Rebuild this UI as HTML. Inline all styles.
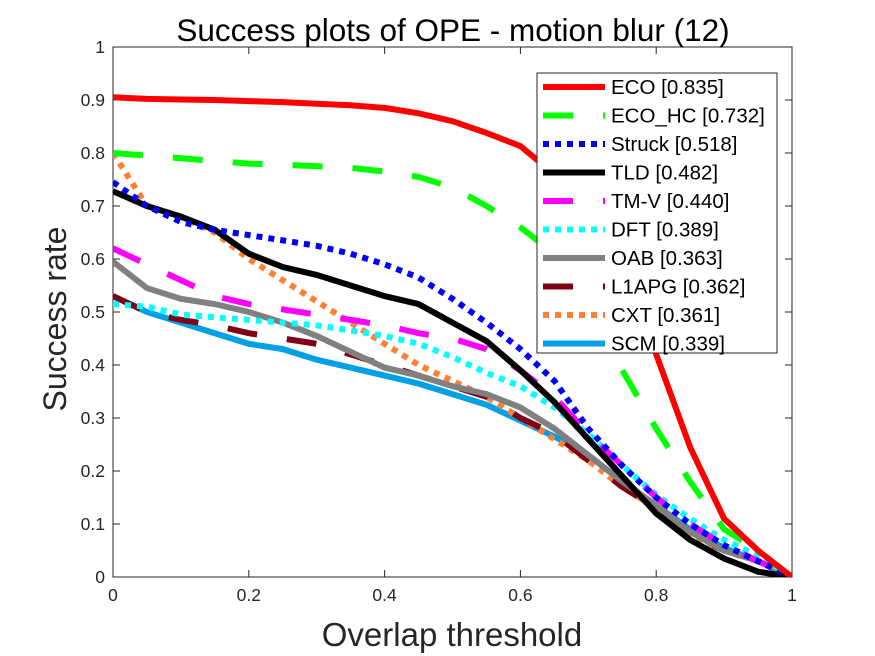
<!DOCTYPE html>
<html><head><meta charset="utf-8"><style>
body{margin:0;background:#fff}
svg{display:block;font-family:"Liberation Sans",sans-serif}
</style></head><body>
<svg id="c" width="875" height="656"></svg>
<script>
const thresholds=[0,.05,.1,.15,.2,.25,.3,.35,.4,.45,.5,.55,.6,.65,.7,.75,.8,.85,.9,.95,1];
const seriesNames=["ECO [0.835]","ECO_HC [0.732]","Struck [0.518]","TLD [0.482]","TM-V [0.440]","DFT [0.389]","OAB [0.363]","L1APG [0.362]","CXT [0.361]","SCM [0.339]"];
const ecoVals=[.905,.902,.901,.900,.898,.896,.893,.89,.885,.875,.86,.838,.813,.76,.70,.60,.42,.245,.11,.05,0];
const ecoHcVals=[.80,.795,.79,.785,.78,.778,.775,.772,.765,.755,.735,.70,.66,.61,.53,.39,.28,.18,.09,.05,0];
const struckVals=[.745,.70,.67,.655,.645,.635,.625,.61,.59,.565,.525,.48,.43,.37,.28,.21,.15,.10,.06,.03,0];
const tldVals=[.728,.70,.68,.655,.61,.585,.57,.55,.53,.515,.48,.445,.39,.33,.26,.19,.12,.07,.035,.01,0];
const tmvVals=[.62,.59,.56,.53,.515,.505,.495,.485,.475,.46,.45,.43,.39,.34,.27,.21,.15,.10,.06,.03,0];
const dftVals=[.515,.51,.495,.49,.485,.48,.475,.465,.455,.44,.415,.385,.36,.32,.27,.21,.155,.11,.07,.04,0];
const oabVals=[.595,.545,.525,.515,.50,.48,.455,.425,.395,.38,.36,.345,.32,.28,.23,.18,.135,.085,.05,.03,0];
const l1apgVals=[.53,.50,.485,.475,.46,.45,.44,.42,.40,.38,.36,.34,.30,.27,.22,.17,.13,.08,.05,.03,0];
const cxtVals=[.80,.70,.68,.65,.60,.56,.52,.48,.44,.40,.37,.34,.30,.26,.22,.17,.13,.08,.05,.03,0];
const scmVals=[.53,.50,.48,.46,.44,.43,.41,.395,.38,.365,.345,.325,.295,.265,.23,.18,.135,.09,.055,.03,0];
const xTicks=[0,0.2,0.4,0.6,0.8,1];
const xTickLabels=["0","0.2","0.4","0.6","0.8","1"];
const yTicks=[0,.1,.2,.3,.4,.5,.6,.7,.8,.9,1];
const yTickLabels=["0","0.1","0.2","0.3","0.4","0.5","0.6","0.7","0.8","0.9","1"];

const allVals=[ecoVals,ecoHcVals,struckVals,tldVals,tmvVals,dftVals,oabVals,l1apgVals,cxtVals,scmVals];
const styles=[["#ff0000",""],["#00ff00","30,30"],["#0000ff","6,6"],["#000000",""],["#ff00ff","30,30"],["#00ffff","6,6"],["#808080",""],["#800014","30,30"],["#ff8030","6,6"],["#00a0e6",""]];
const X0=113,X1=792,Y0=577,Y1=47;
const sx=v=>X0+(X1-X0)*v, sy=v=>Y0-(Y0-Y1)*v;
const NS="http://www.w3.org/2000/svg";
const svg=document.getElementById('c');
function mk(tag,attrs,parent){const e=document.createElementNS(NS,tag);for(const k in attrs)e.setAttribute(k,attrs[k]);(parent||svg).appendChild(e);return e;}
function txt(s,attrs){const t=mk('text',attrs);t.textContent=s;return t;}

mk('rect',{x:X0,y:Y1,width:X1-X0,height:Y0-Y1,fill:'#fff',stroke:'#262626','stroke-width':1});
xTicks.forEach((v,i)=>{
  const g=mk('line',{x1:sx(v),x2:sx(v),y1:Y0,y2:Y0-7,stroke:'#262626'});
  
  mk('line',{x1:sx(v),x2:sx(v),y1:Y1,y2:Y1+7,stroke:'#262626'});
  const t=txt(xTickLabels[i],{x:sx(v),y:Y0+24,'text-anchor':'middle','font-size':17.5,fill:'#262626'});
  
});
yTicks.forEach((v,i)=>{
  mk('line',{x1:X0,x2:X0+7,y1:sy(v),y2:sy(v),stroke:'#262626'});
  mk('line',{x1:X1,x2:X1-7,y1:sy(v),y2:sy(v),stroke:'#262626'});
  const t=txt(yTickLabels[i],{x:X0-8,y:sy(v)+6,'text-anchor':'end','font-size':17.5,fill:'#262626'});
  
});
const clip=mk('clipPath',{id:'pc'});mk('rect',{x:X0,y:Y1,width:X1-X0,height:Y0-Y1},clip);
const g=mk('g',{'clip-path':'url(#pc)'});
for(let s=allVals.length-1;s>=0;s--){
  const d=thresholds.map((t,i)=>(i?'L':'M')+sx(t).toFixed(1)+','+sy(allVals[s][i]).toFixed(1)).join(' ');
  const p=mk('path',{d:d,fill:'none',stroke:styles[s][0],'stroke-width':6,'stroke-dasharray':styles[s][1]||'none'},g);
  
  
}
const lg=mk('g',{});


mk('rect',{x:537,y:73,width:240,height:280,fill:'#fff',stroke:'#262626','stroke-width':1},lg);
seriesNames.forEach((n,i)=>{
  const y=87+i*28.5;
  mk('line',{x1:543,x2:605,y1:y,y2:y,stroke:styles[i][0],'stroke-width':6,'stroke-dasharray':styles[i][1]||'none'},lg);
  const t=mk('text',{x:611,y:y+7,'font-size':20.5,fill:'#000'},lg);t.textContent=n;
  
  
});
const ti=txt('Success plots of OPE - motion blur (12)',{x:453,y:41,'text-anchor':'middle','font-size':31.5,fill:'#000'});

const xl=txt('Overlap threshold',{x:452,y:646,'text-anchor':'middle','font-size':33,fill:'#262626'});

const yl=txt('Success rate',{x:0,y:0,'text-anchor':'middle','font-size':32,fill:'#262626',transform:'translate(66,319) rotate(-90)'});

</script>
</body></html>
